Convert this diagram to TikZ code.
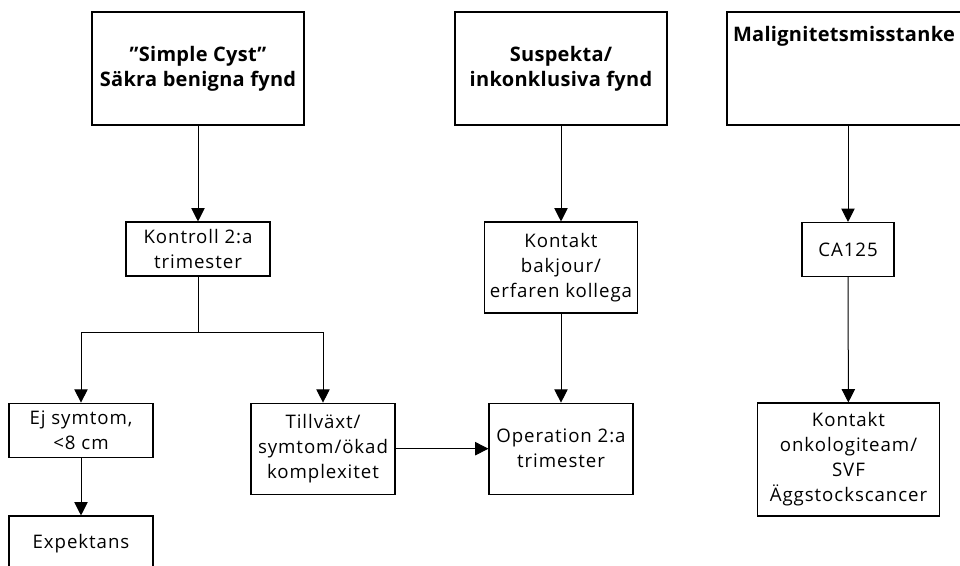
\documentclass[tikz,border=0pt]{standalone}
\usepackage{fontspec}
\setmainfont{Open Sans}
\usetikzlibrary{arrows.meta}

\begin{document}
\begin{tikzpicture}[x=0.75pt,y=-0.75pt,line width=0.75pt,>={Triangle[length=10pt,width=10pt]},
  box/.style={draw, rectangle, line width=0.8pt, align=center, inner sep=1pt, font=\fontsize{14}{18.75}\selectfont\addfontfeatures{LetterSpace=5}},
  headfont/.style={font=\fontsize{15}{18.75}\selectfont\bfseries\addfontfeatures{LetterSpace=1.5}},
  headbox/.style={box, headfont, minimum height=84.75pt}]
\useasboundingbox (0,0) rectangle (960,566);

\node[headbox, minimum width=159pt] (cyst) at (198,68.5) {''Simple Cyst''\\Säkra benigna fynd};
\node[headbox, minimum width=159pt] (susp) at (561,68.5) {Suspekta/\\inkonklusiva fynd};
\node[headbox, minimum width=181.5pt, label={[anchor=north, inner sep=0pt, yshift=-10.5pt, xshift=-3pt, headfont]north:Malignitetsmisstanke}] (malign) at (848,68.5) {};

\node[box, minimum width=108pt, minimum height=40.5pt] (kontroll) at (198,249) {Kontroll 2:a\\trimester};
\node[box, minimum width=114.75pt, minimum height=68.25pt] (bakjour) at (561,267.5) {Kontakt\\bakjour/\\erfaren kollega};
\node[box, minimum width=69pt, minimum height=40.5pt] (ca) at (848,249.5) {CA125};

\node[box, minimum width=108pt, minimum height=41pt] (ejsym) at (81,430.5) {Ej symtom,\\<8 cm};
\node[box, minimum width=108pt, minimum height=68.25pt] (tillv) at (323,448.7) {Tillväxt/\\symtom/ökad\\komplexitet};
\node[box, minimum width=108pt, minimum height=68.25pt] (oper) at (561,448.7) {Operation 2:a\\trimester};
\node[box, minimum width=136.5pt, minimum height=84.75pt] (onko) at (848.5,459.5) {Kontakt\\onkologiteam/\\SVF\\Äggstockscancer};
\node[box, minimum width=108pt, minimum height=42pt] (expekt) at (81,544) {Expektans};

\coordinate (split) at (198,333);

\draw[->] (cyst) -- (kontroll);
\draw (kontroll) -- (split);
\draw[->] (split) -| (ejsym);
\draw[->] (split) -| (tillv);
\draw[->] (ejsym) -- (expekt);
\draw[->] (tillv) -- (oper);
\draw[->] (susp) -- (bakjour);
\draw[->] (bakjour) -- (oper);
\draw[->] (malign) -- (ca);
\draw[->] (ca) -- (onko);
\end{tikzpicture}
\end{document}
